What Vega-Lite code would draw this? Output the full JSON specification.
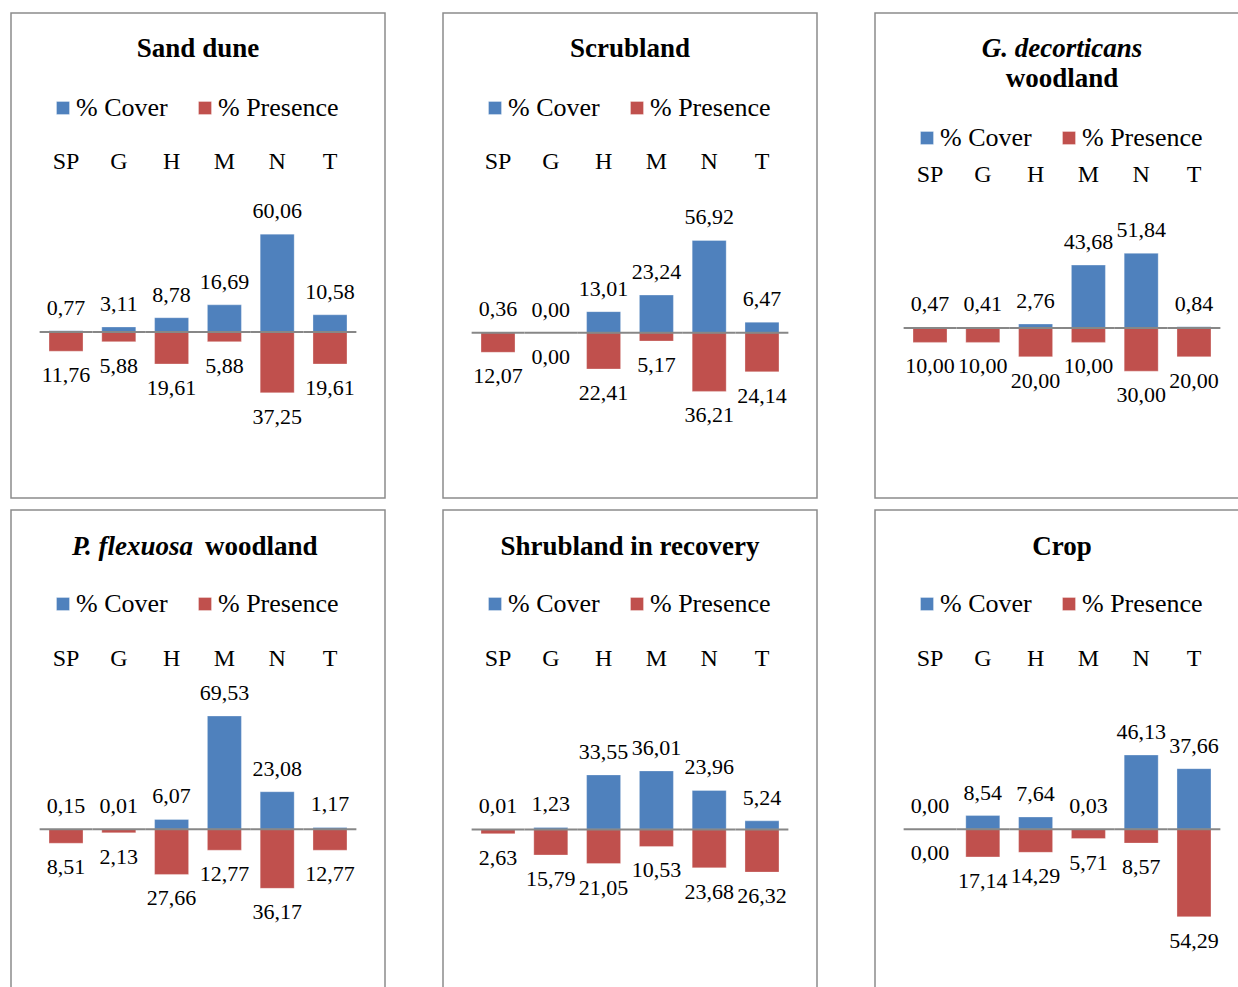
{
  "$schema": "https://vega.github.io/schema/vega-lite/v6.json",
  "padding": {"left": 10, "top": 12, "right": 0, "bottom": 0},
  "background": "white",
  "data": {"values": [
    {"panel": "Sand dune", "group": "SP", "series": "% Cover", "value": 0.77},
    {"panel": "Sand dune", "group": "G", "series": "% Cover", "value": 3.11},
    {"panel": "Sand dune", "group": "H", "series": "% Cover", "value": 8.78},
    {"panel": "Sand dune", "group": "M", "series": "% Cover", "value": 16.69},
    {"panel": "Sand dune", "group": "N", "series": "% Cover", "value": 60.06},
    {"panel": "Sand dune", "group": "T", "series": "% Cover", "value": 10.58},
    {"panel": "Sand dune", "group": "SP", "series": "% Presence", "value": -11.76},
    {"panel": "Sand dune", "group": "G", "series": "% Presence", "value": -5.88},
    {"panel": "Sand dune", "group": "H", "series": "% Presence", "value": -19.61},
    {"panel": "Sand dune", "group": "M", "series": "% Presence", "value": -5.88},
    {"panel": "Sand dune", "group": "N", "series": "% Presence", "value": -37.25},
    {"panel": "Sand dune", "group": "T", "series": "% Presence", "value": -19.61},
    {"panel": "Scrubland", "group": "SP", "series": "% Cover", "value": 0.36},
    {"panel": "Scrubland", "group": "G", "series": "% Cover", "value": 0.0},
    {"panel": "Scrubland", "group": "H", "series": "% Cover", "value": 13.01},
    {"panel": "Scrubland", "group": "M", "series": "% Cover", "value": 23.24},
    {"panel": "Scrubland", "group": "N", "series": "% Cover", "value": 56.92},
    {"panel": "Scrubland", "group": "T", "series": "% Cover", "value": 6.47},
    {"panel": "Scrubland", "group": "SP", "series": "% Presence", "value": -12.07},
    {"panel": "Scrubland", "group": "G", "series": "% Presence", "value": 0.0},
    {"panel": "Scrubland", "group": "H", "series": "% Presence", "value": -22.41},
    {"panel": "Scrubland", "group": "M", "series": "% Presence", "value": -5.17},
    {"panel": "Scrubland", "group": "N", "series": "% Presence", "value": -36.21},
    {"panel": "Scrubland", "group": "T", "series": "% Presence", "value": -24.14},
    {"panel": "G. decorticans woodland", "group": "SP", "series": "% Cover", "value": 0.47},
    {"panel": "G. decorticans woodland", "group": "G", "series": "% Cover", "value": 0.41},
    {"panel": "G. decorticans woodland", "group": "H", "series": "% Cover", "value": 2.76},
    {"panel": "G. decorticans woodland", "group": "M", "series": "% Cover", "value": 43.68},
    {"panel": "G. decorticans woodland", "group": "N", "series": "% Cover", "value": 51.84},
    {"panel": "G. decorticans woodland", "group": "T", "series": "% Cover", "value": 0.84},
    {"panel": "G. decorticans woodland", "group": "SP", "series": "% Presence", "value": -10.0},
    {"panel": "G. decorticans woodland", "group": "G", "series": "% Presence", "value": -10.0},
    {"panel": "G. decorticans woodland", "group": "H", "series": "% Presence", "value": -20.0},
    {"panel": "G. decorticans woodland", "group": "M", "series": "% Presence", "value": -10.0},
    {"panel": "G. decorticans woodland", "group": "N", "series": "% Presence", "value": -30.0},
    {"panel": "G. decorticans woodland", "group": "T", "series": "% Presence", "value": -20.0},
    {"panel": "P. flexuosa woodland", "group": "SP", "series": "% Cover", "value": 0.15},
    {"panel": "P. flexuosa woodland", "group": "G", "series": "% Cover", "value": 0.01},
    {"panel": "P. flexuosa woodland", "group": "H", "series": "% Cover", "value": 6.07},
    {"panel": "P. flexuosa woodland", "group": "M", "series": "% Cover", "value": 69.53},
    {"panel": "P. flexuosa woodland", "group": "N", "series": "% Cover", "value": 23.08},
    {"panel": "P. flexuosa woodland", "group": "T", "series": "% Cover", "value": 1.17},
    {"panel": "P. flexuosa woodland", "group": "SP", "series": "% Presence", "value": -8.51},
    {"panel": "P. flexuosa woodland", "group": "G", "series": "% Presence", "value": -2.13},
    {"panel": "P. flexuosa woodland", "group": "H", "series": "% Presence", "value": -27.66},
    {"panel": "P. flexuosa woodland", "group": "M", "series": "% Presence", "value": -12.77},
    {"panel": "P. flexuosa woodland", "group": "N", "series": "% Presence", "value": -36.17},
    {"panel": "P. flexuosa woodland", "group": "T", "series": "% Presence", "value": -12.77},
    {"panel": "Shrubland in recovery", "group": "SP", "series": "% Cover", "value": 0.01},
    {"panel": "Shrubland in recovery", "group": "G", "series": "% Cover", "value": 1.23},
    {"panel": "Shrubland in recovery", "group": "H", "series": "% Cover", "value": 33.55},
    {"panel": "Shrubland in recovery", "group": "M", "series": "% Cover", "value": 36.01},
    {"panel": "Shrubland in recovery", "group": "N", "series": "% Cover", "value": 23.96},
    {"panel": "Shrubland in recovery", "group": "T", "series": "% Cover", "value": 5.24},
    {"panel": "Shrubland in recovery", "group": "SP", "series": "% Presence", "value": -2.63},
    {"panel": "Shrubland in recovery", "group": "G", "series": "% Presence", "value": -15.79},
    {"panel": "Shrubland in recovery", "group": "H", "series": "% Presence", "value": -21.05},
    {"panel": "Shrubland in recovery", "group": "M", "series": "% Presence", "value": -10.53},
    {"panel": "Shrubland in recovery", "group": "N", "series": "% Presence", "value": -23.68},
    {"panel": "Shrubland in recovery", "group": "T", "series": "% Presence", "value": -26.32},
    {"panel": "Crop", "group": "SP", "series": "% Cover", "value": 0.0},
    {"panel": "Crop", "group": "G", "series": "% Cover", "value": 8.54},
    {"panel": "Crop", "group": "H", "series": "% Cover", "value": 7.64},
    {"panel": "Crop", "group": "M", "series": "% Cover", "value": 0.03},
    {"panel": "Crop", "group": "N", "series": "% Cover", "value": 46.13},
    {"panel": "Crop", "group": "T", "series": "% Cover", "value": 37.66},
    {"panel": "Crop", "group": "SP", "series": "% Presence", "value": 0.0},
    {"panel": "Crop", "group": "G", "series": "% Presence", "value": -17.14},
    {"panel": "Crop", "group": "H", "series": "% Presence", "value": -14.29},
    {"panel": "Crop", "group": "M", "series": "% Presence", "value": -5.71},
    {"panel": "Crop", "group": "N", "series": "% Presence", "value": -8.57},
    {"panel": "Crop", "group": "T", "series": "% Presence", "value": -54.29}
  ]},
  "columns": 3,
  "spacing": {"row": 10, "column": 56},
  "resolve": {
    "scale": {"x": "independent", "y": "independent", "color": "independent"},
    "legend": {"color": "independent"}
  },
  "concat": [
    {
      "width": 374, "height": 485,
      "title": {"text": "Sand dune", "offset": -63, "baseline": "middle"},
      "transform": [{"filter": "datum.panel === 'Sand dune'"}],
      "encoding": {
        "x": {"field": "group", "type": "nominal", "sort": ["SP", "G", "H", "M", "N", "T"], "scale": {"paddingInner": 0.356, "paddingOuter": 0.72},
          "axis": {"orient": "top", "offset": -148, "domain": false, "ticks": false, "tickSize": 0, "labelPadding": 0, "labelBaseline": "middle", "labelAngle": 0, "title": null, "grid": false}}
      },
      "layer": [
        {"mark": {"type": "bar"},
         "encoding": {
           "y": {"field": "value", "type": "quantitative", "scale": {"domain": [-101.8, 195.7], "nice": false, "zero": false}, "axis": null},
           "color": {"field": "series", "type": "nominal", "scale": {"domain": ["% Cover", "% Presence"], "range": ["#4F81BD", "#C0504D"]},
             "legend": {"orient": "none", "legendX": 39, "legendY": 82, "direction": "horizontal", "title": null}}
         }},
        {"transform": [{"filter": "datum.series === '% Cover'"}],
         "mark": {"type": "rule", "color": "#878787", "strokeWidth": 2},
         "encoding": {
           "x": {"field": "group", "type": "nominal", "sort": ["SP", "G", "H", "M", "N", "T"], "bandPosition": -0.276},
           "x2": {"field": "group", "bandPosition": 1.276},
           "y": {"datum": 0}
         }},
        {"transform": [{"filter": "datum.series === '% Cover'"}],
         "mark": {"type": "text", "dy": -23, "baseline": "middle"},
         "encoding": {"y": {"field": "value", "type": "quantitative"}, "text": {"field": "value", "type": "quantitative", "format": ".2f"}}},
        {"transform": [{"filter": "datum.series === '% Presence'"}],
         "mark": {"type": "text", "dy": 24, "baseline": "middle"},
         "encoding": {"y": {"field": "value", "type": "quantitative"}, "text": {"field": "value", "type": "quantitative", "format": ".2f"}}}
      ]
    },
    {
      "width": 374, "height": 485,
      "title": {"text": "Scrubland", "offset": -63, "baseline": "middle"},
      "transform": [{"filter": "datum.panel === 'Scrubland'"}],
      "encoding": {
        "x": {"field": "group", "type": "nominal", "sort": ["SP", "G", "H", "M", "N", "T"], "scale": {"paddingInner": 0.356, "paddingOuter": 0.72},
          "axis": {"orient": "top", "offset": -148, "domain": false, "ticks": false, "tickSize": 0, "labelPadding": 0, "labelBaseline": "middle", "labelAngle": 0, "title": null, "grid": false}}
      },
      "layer": [
        {"mark": {"type": "bar"},
         "encoding": {
           "y": {"field": "value", "type": "quantitative", "scale": {"domain": [-102.0, 197.3], "nice": false, "zero": false}, "axis": null},
           "color": {"field": "series", "type": "nominal", "scale": {"domain": ["% Cover", "% Presence"], "range": ["#4F81BD", "#C0504D"]},
             "legend": {"orient": "none", "legendX": 39, "legendY": 82, "direction": "horizontal", "title": null}}
         }},
        {"transform": [{"filter": "datum.series === '% Cover'"}],
         "mark": {"type": "rule", "color": "#878787", "strokeWidth": 2},
         "encoding": {
           "x": {"field": "group", "type": "nominal", "sort": ["SP", "G", "H", "M", "N", "T"], "bandPosition": -0.276},
           "x2": {"field": "group", "bandPosition": 1.276},
           "y": {"datum": 0}
         }},
        {"transform": [{"filter": "datum.series === '% Cover'"}],
         "mark": {"type": "text", "dy": -23, "baseline": "middle"},
         "encoding": {"y": {"field": "value", "type": "quantitative"}, "text": {"field": "value", "type": "quantitative", "format": ".2f"}}},
        {"transform": [{"filter": "datum.series === '% Presence'"}],
         "mark": {"type": "text", "dy": 24, "baseline": "middle"},
         "encoding": {"y": {"field": "value", "type": "quantitative"}, "text": {"field": "value", "type": "quantitative", "format": ".2f"}}}
      ]
    },
    {
      "width": 374, "height": 485,
      "title": {"text": "G. decorticans", "subtitle": "woodland", "fontStyle": "italic", "subtitleFontStyle": "normal", "subtitleFontWeight": "bold", "subtitleFontSize": 27, "subtitleFont": "Liberation Serif", "subtitleColor": "#000000", "subtitlePadding": 3, "offset": -93, "baseline": "middle"},
      "transform": [{"filter": "datum.panel === 'G. decorticans woodland'"}],
      "encoding": {
        "x": {"field": "group", "type": "nominal", "sort": ["SP", "G", "H", "M", "N", "T"], "scale": {"paddingInner": 0.356, "paddingOuter": 0.72},
          "axis": {"orient": "top", "offset": -161, "domain": false, "ticks": false, "tickSize": 0, "labelPadding": 0, "labelBaseline": "middle", "labelAngle": 0, "title": null, "grid": false}}
      },
      "layer": [
        {"mark": {"type": "bar"},
         "encoding": {
           "y": {"field": "value", "type": "quantitative", "scale": {"domain": [-118.1, 218.8], "nice": false, "zero": false}, "axis": null},
           "color": {"field": "series", "type": "nominal", "scale": {"domain": ["% Cover", "% Presence"], "range": ["#4F81BD", "#C0504D"]},
             "legend": {"orient": "none", "legendX": 39, "legendY": 112, "direction": "horizontal", "title": null}}
         }},
        {"transform": [{"filter": "datum.series === '% Cover'"}],
         "mark": {"type": "rule", "color": "#878787", "strokeWidth": 2},
         "encoding": {
           "x": {"field": "group", "type": "nominal", "sort": ["SP", "G", "H", "M", "N", "T"], "bandPosition": -0.276},
           "x2": {"field": "group", "bandPosition": 1.276},
           "y": {"datum": 0}
         }},
        {"transform": [{"filter": "datum.series === '% Cover'"}],
         "mark": {"type": "text", "dy": -23, "baseline": "middle"},
         "encoding": {"y": {"field": "value", "type": "quantitative"}, "text": {"field": "value", "type": "quantitative", "format": ".2f"}}},
        {"transform": [{"filter": "datum.series === '% Presence'"}],
         "mark": {"type": "text", "dy": 24, "baseline": "middle"},
         "encoding": {"y": {"field": "value", "type": "quantitative"}, "text": {"field": "value", "type": "quantitative", "format": ".2f"}}}
      ]
    },
    {
      "width": 374, "height": 485,
      "layer": [
        {"transform": [{"filter": "datum.panel === 'P. flexuosa woodland'"}],
         "mark": {"type": "bar"},
         "encoding": {
           "x": {"field": "group", "type": "nominal", "sort": ["SP", "G", "H", "M", "N", "T"], "scale": {"paddingInner": 0.356, "paddingOuter": 0.72},
             "axis": {"orient": "top", "offset": -148, "domain": false, "ticks": false, "tickSize": 0, "labelPadding": 0, "labelBaseline": "middle", "labelAngle": 0, "title": null, "grid": false}},
           "y": {"field": "value", "type": "quantitative", "scale": {"domain": [-101.6, 195.9], "nice": false, "zero": false}, "axis": null},
           "color": {"field": "series", "type": "nominal", "scale": {"domain": ["% Cover", "% Presence"], "range": ["#4F81BD", "#C0504D"]},
             "legend": {"orient": "none", "legendX": 39, "legendY": 81, "direction": "horizontal", "title": null}}
         }},
        {"transform": [{"filter": "datum.panel === 'P. flexuosa woodland' && datum.series === '% Cover'"}],
         "mark": {"type": "rule", "color": "#878787", "strokeWidth": 2},
         "encoding": {
           "x": {"field": "group", "type": "nominal", "sort": ["SP", "G", "H", "M", "N", "T"], "bandPosition": -0.276},
           "x2": {"field": "group", "bandPosition": 1.276},
           "y": {"datum": 0}
         }},
        {"transform": [{"filter": "datum.panel === 'P. flexuosa woodland' && datum.series === '% Cover'"}],
         "mark": {"type": "text", "dy": -23, "baseline": "middle"},
         "encoding": {
           "x": {"field": "group", "type": "nominal", "sort": ["SP", "G", "H", "M", "N", "T"]},
           "y": {"field": "value", "type": "quantitative"}, "text": {"field": "value", "type": "quantitative", "format": ".2f"}}},
        {"transform": [{"filter": "datum.panel === 'P. flexuosa woodland' && datum.series === '% Presence'"}],
         "mark": {"type": "text", "dy": 24, "baseline": "middle"},
         "encoding": {
           "x": {"field": "group", "type": "nominal", "sort": ["SP", "G", "H", "M", "N", "T"]},
           "y": {"field": "value", "type": "quantitative"}, "text": {"field": "value", "type": "quantitative", "format": ".2f"}}},
        {"data": {"values": [{"a": "P. flexuosa", "b": "woodland"}]},
         "mark": {"type": "text", "align": "right", "baseline": "middle", "dx": -5, "fontSize": 27, "fontWeight": "bold", "fontStyle": "italic"},
         "encoding": {"y": {"datum": 173.2}, "text": {"field": "a"}}},
        {"data": {"values": [{"a": "P. flexuosa", "b": "woodland"}]},
         "mark": {"type": "text", "align": "left", "baseline": "middle", "dx": 7, "fontSize": 27, "fontWeight": "bold"},
         "encoding": {"y": {"datum": 173.2}, "text": {"field": "b"}}}
      ]
    },
    {
      "width": 374, "height": 485,
      "title": {"text": "Shrubland in recovery", "offset": -64, "baseline": "middle"},
      "transform": [{"filter": "datum.panel === 'Shrubland in recovery'"}],
      "encoding": {
        "x": {"field": "group", "type": "nominal", "sort": ["SP", "G", "H", "M", "N", "T"], "scale": {"paddingInner": 0.356, "paddingOuter": 0.72},
          "axis": {"orient": "top", "offset": -148, "domain": false, "ticks": false, "tickSize": 0, "labelPadding": 0, "labelBaseline": "middle", "labelAngle": 0, "title": null, "grid": false}}
      },
      "layer": [
        {"mark": {"type": "bar"},
         "encoding": {
           "y": {"field": "value", "type": "quantitative", "scale": {"domain": [-102.0, 196.7], "nice": false, "zero": false}, "axis": null},
           "color": {"field": "series", "type": "nominal", "scale": {"domain": ["% Cover", "% Presence"], "range": ["#4F81BD", "#C0504D"]},
             "legend": {"orient": "none", "legendX": 39, "legendY": 81, "direction": "horizontal", "title": null}}
         }},
        {"transform": [{"filter": "datum.series === '% Cover'"}],
         "mark": {"type": "rule", "color": "#878787", "strokeWidth": 2},
         "encoding": {
           "x": {"field": "group", "type": "nominal", "sort": ["SP", "G", "H", "M", "N", "T"], "bandPosition": -0.276},
           "x2": {"field": "group", "bandPosition": 1.276},
           "y": {"datum": 0}
         }},
        {"transform": [{"filter": "datum.series === '% Cover'"}],
         "mark": {"type": "text", "dy": -23, "baseline": "middle"},
         "encoding": {"y": {"field": "value", "type": "quantitative"}, "text": {"field": "value", "type": "quantitative", "format": ".2f"}}},
        {"transform": [{"filter": "datum.series === '% Presence'"}],
         "mark": {"type": "text", "dy": 24, "baseline": "middle"},
         "encoding": {"y": {"field": "value", "type": "quantitative"}, "text": {"field": "value", "type": "quantitative", "format": ".2f"}}}
      ]
    },
    {
      "width": 374, "height": 485,
      "title": {"text": "Crop", "offset": -64, "baseline": "middle"},
      "transform": [{"filter": "datum.panel === 'Crop'"}],
      "encoding": {
        "x": {"field": "group", "type": "nominal", "sort": ["SP", "G", "H", "M", "N", "T"], "scale": {"paddingInner": 0.356, "paddingOuter": 0.72},
          "axis": {"orient": "top", "offset": -148, "domain": false, "ticks": false, "tickSize": 0, "labelPadding": 0, "labelBaseline": "middle", "labelAngle": 0, "title": null, "grid": false}}
      },
      "layer": [
        {"mark": {"type": "bar"},
         "encoding": {
           "y": {"field": "value", "type": "quantitative", "scale": {"domain": [-102.9, 198.3], "nice": false, "zero": false}, "axis": null},
           "color": {"field": "series", "type": "nominal", "scale": {"domain": ["% Cover", "% Presence"], "range": ["#4F81BD", "#C0504D"]},
             "legend": {"orient": "none", "legendX": 39, "legendY": 81, "direction": "horizontal", "title": null}}
         }},
        {"transform": [{"filter": "datum.series === '% Cover'"}],
         "mark": {"type": "rule", "color": "#878787", "strokeWidth": 2},
         "encoding": {
           "x": {"field": "group", "type": "nominal", "sort": ["SP", "G", "H", "M", "N", "T"], "bandPosition": -0.276},
           "x2": {"field": "group", "bandPosition": 1.276},
           "y": {"datum": 0}
         }},
        {"transform": [{"filter": "datum.series === '% Cover'"}],
         "mark": {"type": "text", "dy": -23, "baseline": "middle"},
         "encoding": {"y": {"field": "value", "type": "quantitative"}, "text": {"field": "value", "type": "quantitative", "format": ".2f"}}},
        {"transform": [{"filter": "datum.series === '% Presence'"}],
         "mark": {"type": "text", "dy": 24, "baseline": "middle"},
         "encoding": {"y": {"field": "value", "type": "quantitative"}, "text": {"field": "value", "type": "quantitative", "format": ".2f"}}}
      ]
    }
  ],
  "config": {
    "font": "Liberation Serif",
    "view": {"stroke": "#8c8c8c", "strokeWidth": 1.5},
    "locale": {"number": {"decimal": ",", "thousands": ".", "grouping": [3], "currency": ["", ""], "minus": ""}},
    "title": {"font": "Liberation Serif", "fontSize": 27, "fontWeight": "bold", "color": "#000000", "anchor": "middle"},
    "axis": {"labelFont": "Liberation Serif", "labelFontSize": 24, "labelColor": "#000000"},
    "legend": {"labelFont": "Liberation Serif", "labelFontSize": 26, "labelColor": "#000000", "symbolType": "square", "symbolSize": 169, "symbolStrokeWidth": 0, "labelOffset": 0, "columnPadding": 24, "padding": 0},
    "text": {"font": "Liberation Serif", "fontSize": 22, "color": "#000000"},
    "bar": {"stroke": "#ffffff", "strokeWidth": 0.6, "strokeOpacity": 0.5}
  }
}
